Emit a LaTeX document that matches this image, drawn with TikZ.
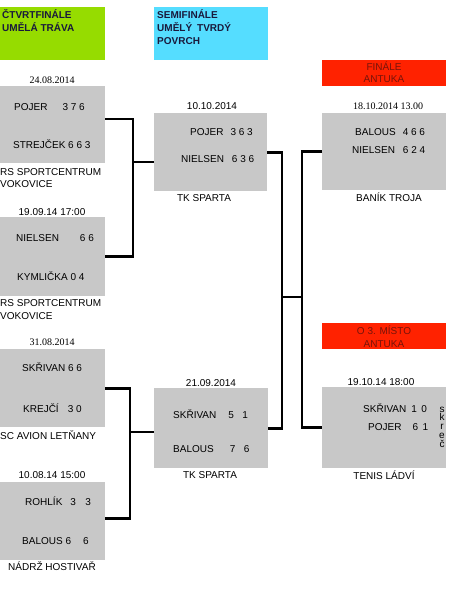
\documentclass[tikz,border=0pt]{standalone}
\usepackage{fontspec}
\setmainfont{Liberation Sans}
\newfontfamily\datefont{Liberation Serif}
\usepackage{xcolor}
\usepackage{tikz}
\usetikzlibrary{positioning}
\definecolor{roundgreen}{RGB}{150,220,0}
\definecolor{roundcyan}{RGB}{85,221,255}
\definecolor{roundred}{RGB}{255,34,0}
\definecolor{courtgray}{RGB}{200,200,200}
\definecolor{headtext}{RGB}{25,25,60}
\definecolor{redtext}{RGB}{120,20,10}
\tikzset{
  matchbox/.style={fill=courtgray, anchor=north west, inner sep=0pt},
  stagebox/.style={anchor=north west, inner sep=0pt},
  txt/.style={inner sep=0pt, text height=7pt, text depth=0pt, font=\fontsize{10}{12}\selectfont},
  scoreline/.style={txt, anchor=west},
  datetxt/.style={txt, font=\datefont\fontsize{10}{12}\selectfont},
  venue/.style={txt},
  headtxt/.style={inner sep=0pt, align=left, anchor=base west, text=headtext,
                  font=\fontsize{10}{13}\selectfont\bfseries},
  redtxt/.style={inner sep=0pt, align=center, anchor=base, text=redtext,
                 font=\fontsize{10}{12.5}\selectfont},
  link/.style={line width=2.6pt, line join=miter}
}
\begin{document}
\begin{tikzpicture}[x=1pt, y=-1pt]
\useasboundingbox (0,0) rectangle (450,591);
\fill[white] (0,0) rectangle (450,591);

% Round headers (text anchored on its last line)
\node[stagebox, fill=roundgreen, minimum width=105pt, minimum height=53pt] (hqf) at (0,7) {};
\node[headtxt] (hqftxt) at (2,31.5) {ČTVRTFINÁLE\\UMĚLÁ TRÁVA};
\node[stagebox, fill=roundcyan, minimum width=114pt, minimum height=53pt] (hsf) at (154,7) {};
\node[headtxt] (hsftxt) at (157,44.5) {SEMIFINÁLE\\UMĚLÝ\hspace{5pt}TVRDÝ\\POVRCH};
\node[stagebox, fill=roundred, minimum width=124pt, minimum height=26pt] (hfin) at (322,60) {};
\node[redtxt] (hfintxt) at (384,83) {FINÁLE\\ANTUKA};
\node[stagebox, fill=roundred, minimum width=124pt, minimum height=26pt] (hthird) at (322,323) {};
\node[redtxt] (hthirdtxt) at (384,347) {O 3. MÍSTO\\ANTUKA};

% Quarter-finals
\node[datetxt] (qfadate) at (52,80) {24.08.2014};
\node[matchbox, minimum width=105pt, minimum height=77pt] (qfa) at (0,86) {};
\node[scoreline] (qfa1) at (14,107) {POJER\hspace{15pt}3 7 6};
\node[scoreline] (qfa2) at (13,145) {STREJČEK 6 6 3};
\node[venue, anchor=west] (qfavenue) at (0,172) {RS SPORTCENTRUM};
\node[venue, anchor=west] (qfavenue2) at (0,184) {VOKOVICE};

\node[txt] (qfbdate) at (52,212) {19.09.14 17:00};
\node[matchbox, minimum width=105pt, minimum height=79pt] (qfb) at (0,217) {};
\node[scoreline] (qfb1) at (16,238) {NIELSEN\hspace{21pt}6 6};
\node[scoreline] (qfb2) at (17,277) {KYMLIČKA 0 4};
\node[venue, anchor=west] (qfbvenue) at (0,303) {RS SPORTCENTRUM};
\node[venue, anchor=west] (qfbvenue2) at (0,316) {VOKOVICE};

\node[datetxt] (qfcdate) at (52,342) {31.08.2014};
\node[matchbox, minimum width=105pt, minimum height=78pt] (qfc) at (0,349) {};
\node[scoreline] (qfc1) at (22,368) {SKŘIVAN 6 6};
\node[scoreline] (qfc2) at (23,409) {KREJČÍ\hspace{9pt}3 0};
\node[venue, anchor=west] (qfcvenue) at (0,436) {SC AVION LETŇANY};

\node[txt] (qfddate) at (52,475) {10.08.14 15:00};
\node[matchbox, minimum width=105pt, minimum height=78pt] (qfd) at (0,482) {};
\node[scoreline] (qfd1) at (25,502) {ROHLÍK\hspace{8pt}3\hspace{9.5pt}3};
\node[scoreline] (qfd2) at (22,541) {BALOUS 6\hspace{12pt}6};
\node[venue] (qfdvenue) at (52,567) {NÁDRŽ HOSTIVAŘ};

% Semi-finals
\node[txt] (sfadate) at (212,106) {10.10.2014};
\node[matchbox, minimum width=113pt, minimum height=78pt] (sfa) at (154,113) {};
\node[scoreline] (sfa1) at (190,132) {POJER\hspace{7pt}3 6 3};
\node[scoreline] (sfa2) at (181,159) {NIELSEN\hspace{8pt}6 3 6};
\node[venue] (sfavenue) at (204,198) {TK SPARTA};

\node[txt] (sfbdate) at (211,383) {21.09.2014};
\node[matchbox, minimum width=114pt, minimum height=80pt] (sfb) at (154,388) {};
\node[scoreline] (sfb1) at (173,415) {SKŘIVAN\hspace{12pt}5\hspace{8.5pt}1};
\node[scoreline] (sfb2) at (173,449) {BALOUS\hspace{16pt}7\hspace{8.5pt}6};
\node[venue] (sfbvenue) at (210,475) {TK SPARTA};

% Final and 3rd place
\node[datetxt] (findate) at (388,106) {18.10.2014 13.00};
\node[matchbox, minimum width=124pt, minimum height=77pt] (fin) at (322,113) {};
\node[scoreline] (fin1) at (355,132) {BALOUS\hspace{7pt}4 6 6};
\node[scoreline] (fin2) at (352,150) {NIELSEN\hspace{8pt}6 2 4};
\node[venue] (finvenue) at (389,198) {BANÍK TROJA};

\node[txt] (thirddate) at (381,382) {19.10.14 18:00};
\node[matchbox, minimum width=124pt, minimum height=81pt] (third) at (322,387) {};
\node[scoreline] (third1) at (363,409) {SKŘIVAN\hspace{5pt}1\hspace{4.5pt}0};
\node[scoreline] (third2) at (368,427) {POJER\hspace{11pt}6\hspace{4.5pt}1};
\node[inner sep=0pt, align=center, anchor=base, font=\fontsize{10}{8.8}\selectfont] (skrec) at (442,447.2) {s\\k\\r\\e\\č};
\node[venue] (thirdvenue) at (384,476) {TENIS LÁDVÍ};

% Bracket lines
\coordinate (jtop) at (133,162);
\coordinate (jbot) at (130,432);
\coordinate (jleft) at (282,297);
\coordinate (jright) at (302,297);
\draw[link] ([yshift=5.5pt]qfa.east) -| (jtop) |- (qfb.east);
\draw[link] (jtop) -- (jtop -| sfa.west);
\draw[link] (qfc.east) -| (jbot) |- ([yshift=3pt]qfd.east);
\draw[link] (jbot) -- (jbot -| sfb.west);
\draw[link] (sfa.east) -| (jleft) |- (sfb.east);
\draw[link] (fin.west) -| (jright) |- (third.west);
\draw[link] (jleft) -- (jright);

\end{tikzpicture}
\end{document}
